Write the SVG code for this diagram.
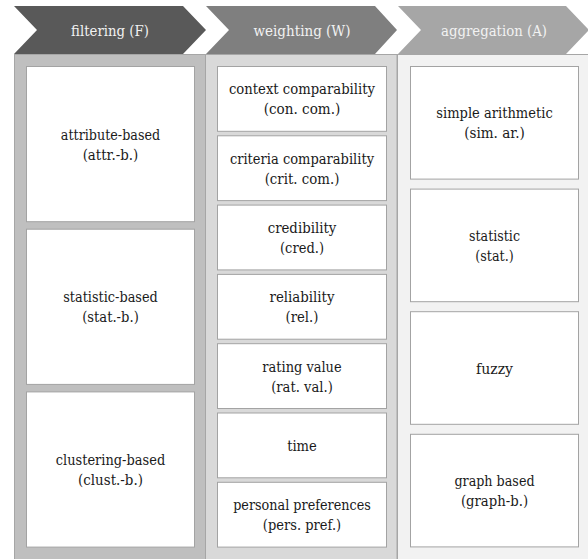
<svg xmlns="http://www.w3.org/2000/svg" width="588" height="559" viewBox="0 0 588 559">
<style>
text{font-family:'DejaVu Serif',serif;text-anchor:middle}
.hdr{font-size:15px;fill:#f2f2f2}
.lbl{font-size:14.5px;fill:#1a1a1a}
.box{fill:#ffffff;stroke:#a3a3a3;stroke-width:1}
.panel{stroke:#a6a6a6;stroke-width:1}
</style>
<rect width="588" height="559" fill="#ffffff"/>
<g id="panels">
<rect class="panel" x="14.5" y="54.5" width="191" height="510" fill="#bfbfbf"/>
<rect class="panel" x="205.5" y="54.5" width="191.5" height="510" fill="#d9d9d9"/>
<rect class="panel" x="397.5" y="54.5" width="195" height="510" fill="#f2f2f2"/>
</g>
<g id="header-filtering">
<polygon points="14,6 183,6 206,30 183,54 14,54 37,30" fill="#595959"/>
<text class="hdr" x="110" y="36" textLength="77.8" lengthAdjust="spacingAndGlyphs">filtering (F)</text>
</g>
<g id="header-weighting">
<polygon points="206,6 375,6 397,30 375,54 206,54 229,30" fill="#7f7f7f"/>
<text class="hdr" x="302" y="36" textLength="97" lengthAdjust="spacingAndGlyphs">weighting (W)</text>
</g>
<g id="header-aggregation">
<polygon points="398,6 566,6 589,30 566,54 398,54 421,30" fill="#a6a6a6"/>
<text class="hdr" x="494" y="36" textLength="106" lengthAdjust="spacingAndGlyphs">aggregation (A)</text>
</g>
<g id="f1"><rect class="box" x="26.5" y="66.5" width="168" height="155.2"/><text class="lbl" x="110.5" y="139.6" textLength="99.3" lengthAdjust="spacingAndGlyphs">attribute-based</text><text class="lbl" x="110.5" y="159.6" textLength="55.7" lengthAdjust="spacingAndGlyphs">(attr.-b.)</text></g>
<g id="f2"><rect class="box" x="26.5" y="229.2" width="168" height="155.2"/><text class="lbl" x="110.5" y="302.3" textLength="94.6" lengthAdjust="spacingAndGlyphs">statistic-based</text><text class="lbl" x="110.5" y="322.3" textLength="56.6" lengthAdjust="spacingAndGlyphs">(stat.-b.)</text></g>
<g id="f3"><rect class="box" x="26.5" y="391.9" width="168" height="155.2"/><text class="lbl" x="110.5" y="465" textLength="109.4" lengthAdjust="spacingAndGlyphs">clustering-based</text><text class="lbl" x="110.5" y="485" textLength="65" lengthAdjust="spacingAndGlyphs">(clust.-b.)</text></g>
<g id="w1"><rect class="box" x="217.5" y="66.5" width="169" height="64.8"/><text class="lbl" x="302" y="94.4" textLength="146.1" lengthAdjust="spacingAndGlyphs">context comparability</text><text class="lbl" x="302" y="114.4" textLength="76.5" lengthAdjust="spacingAndGlyphs">(con. com.)</text></g>
<g id="w2"><rect class="box" x="217.5" y="135.8" width="169" height="64.8"/><text class="lbl" x="302" y="163.7" textLength="144.2" lengthAdjust="spacingAndGlyphs">criteria comparability</text><text class="lbl" x="302" y="183.7" textLength="74.7" lengthAdjust="spacingAndGlyphs">(crit. com.)</text></g>
<g id="w3"><rect class="box" x="217.5" y="205.1" width="169" height="64.8"/><text class="lbl" x="302" y="233" textLength="68.6" lengthAdjust="spacingAndGlyphs">credibility</text><text class="lbl" x="302" y="253" textLength="44" lengthAdjust="spacingAndGlyphs">(cred.)</text></g>
<g id="w4"><rect class="box" x="217.5" y="274.4" width="169" height="64.8"/><text class="lbl" x="302" y="302.3" textLength="65" lengthAdjust="spacingAndGlyphs">reliability</text><text class="lbl" x="302" y="322.3" textLength="32.9" lengthAdjust="spacingAndGlyphs">(rel.)</text></g>
<g id="w5"><rect class="box" x="217.5" y="343.7" width="169" height="64.8"/><text class="lbl" x="302" y="371.6" textLength="79.3" lengthAdjust="spacingAndGlyphs">rating value</text><text class="lbl" x="302" y="391.6" textLength="61.6" lengthAdjust="spacingAndGlyphs">(rat. val.)</text></g>
<g id="w6"><rect class="box" x="217.5" y="413" width="169" height="64.8"/><text class="lbl" x="302" y="450.9" textLength="29.7" lengthAdjust="spacingAndGlyphs">time</text></g>
<g id="w7"><rect class="box" x="217.5" y="482.3" width="169" height="64.8"/><text class="lbl" x="302" y="510.2" textLength="137.7" lengthAdjust="spacingAndGlyphs">personal preferences</text><text class="lbl" x="302" y="530.2" textLength="78.3" lengthAdjust="spacingAndGlyphs">(pers. pref.)</text></g>
<g id="a1"><rect class="box" x="410.5" y="66.5" width="168" height="112.6"/><text class="lbl" x="494.5" y="118.3" textLength="116.4" lengthAdjust="spacingAndGlyphs">simple arithmetic</text><text class="lbl" x="494.5" y="138.3" textLength="60.7" lengthAdjust="spacingAndGlyphs">(sim. ar.)</text></g>
<g id="a2"><rect class="box" x="410.5" y="189.1" width="168" height="112.6"/><text class="lbl" x="494.5" y="240.9" textLength="51" lengthAdjust="spacingAndGlyphs">statistic</text><text class="lbl" x="494.5" y="260.9" textLength="38.5" lengthAdjust="spacingAndGlyphs">(stat.)</text></g>
<g id="a3"><rect class="box" x="410.5" y="311.7" width="168" height="112.6"/><text class="lbl" x="494.5" y="373.5" textLength="37" lengthAdjust="spacingAndGlyphs">fuzzy</text></g>
<g id="a4"><rect class="box" x="410.5" y="434.3" width="168" height="112.6"/><text class="lbl" x="494.5" y="486.1" textLength="80.2" lengthAdjust="spacingAndGlyphs">graph based</text><text class="lbl" x="494.5" y="506.1" textLength="67.2" lengthAdjust="spacingAndGlyphs">(graph-b.)</text></g>
</svg>
